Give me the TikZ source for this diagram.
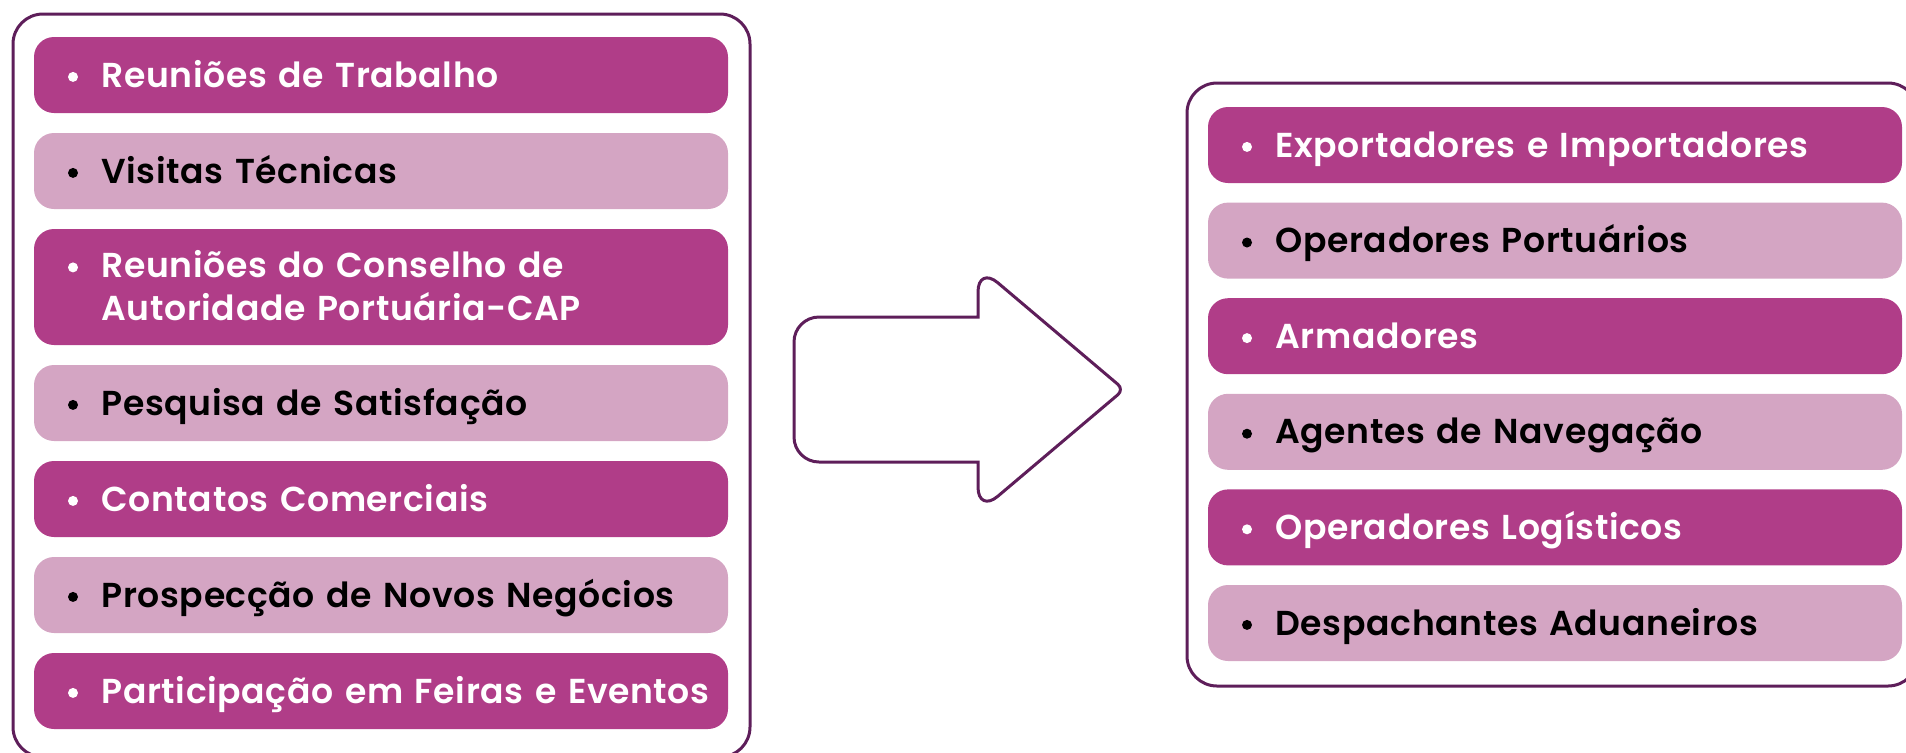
\documentclass[tikz,border=0pt]{standalone}
\usepackage{fontspec}
\setmainfont{Poppins SemiBold}[LetterSpace=1.8]
\usetikzlibrary{positioning}
\definecolor{porto-dark}{RGB}{176,61,136}
\definecolor{porto-light}{RGB}{212,165,195}
\definecolor{porto-line}{RGB}{94,30,90}
\newcommand{\bul}{\makebox[16.75pt][l]{\raisebox{2.6pt}{\tikz\fill (0,0) circle (2.5pt);}}}
\tikzset{%
  bar/.style={%
    rectangle,
    rounded corners=10pt,
    minimum height=38pt,
    text width=313pt,
    align=left,
    inner xsep=17pt, inner ysep=0pt,
    outer sep=0pt,
    text height=14.1pt, text depth=2pt,
    font=\fontsize{17.3}{21.5}\selectfont,
  },
  darkbar/.style={bar, fill=porto-dark, text=white},
  lightbar/.style={bar, fill=porto-light, text=black},
  frame/.style={%
    draw=porto-line,
    line width=1.5pt,
    rounded corners=15pt,
  },
  arrowline/.style={%
    draw=porto-line,
    line width=1.5pt,
    fill=white,
  },
}
\begin{document}
\begin{tikzpicture}[x=0.5pt, y=-0.5pt, node distance=10pt]
  \useasboundingbox (0,0) rectangle (1906,752);

  % frames
  \draw[frame] (13,14) rectangle (750,757);
  \draw[frame] (1187,83) rectangle (1918,686);

  % left column
  \node[darkbar, anchor=north west] at (34,37) (reunioes) {\bul Reuniões de Trabalho};
  \node[lightbar, below=of reunioes] (visitas) {\bul Visitas Técnicas};
  \node[darkbar, below=of visitas, minimum height=58pt, text depth=23.5pt] (conselho)
    {\bul Reuniões do Conselho de\\\hspace*{16.75pt}Autoridade Portuária-CAP};
  \node[lightbar, below=of conselho] (pesquisa) {\bul Pesquisa de Satisfação};
  \node[darkbar, below=of pesquisa] (contatos) {\bul Contatos Comerciais};
  \node[lightbar, below=of contatos] (prospeccao) {\bul Prospecção de Novos Negócios};
  \node[darkbar, below=of prospeccao] (feiras) {\bul \mbox{Participação em Feiras e Eventos}};

  % right column
  \begin{scope}[node distance=9.8pt]
    \node[darkbar, anchor=north west] at (1208,107) (exportadores) {\bul Exportadores e Importadores};
    \node[lightbar, below=of exportadores] (operadores) {\bul Operadores Portuários};
    \node[darkbar, below=of operadores] (armadores) {\bul Armadores};
    \node[lightbar, below=of armadores] (agentes) {\bul Agentes de Navegação};
    \node[darkbar, below=of agentes] (logisticos) {\bul Operadores Logísticos};
    \node[lightbar, below=of logisticos] (despachantes) {\bul Despachantes Aduaneiros};
  \end{scope}

  % arrow
  \draw[arrowline] (794,389.5) [rounded corners=12.5pt] -- (794,317)
    [sharp corners] -- (978,317) [rounded corners=13pt] -- (978,266)
    [rounded corners=4pt] -- (1124,389.5) [rounded corners=13pt] -- (978,513)
    [sharp corners] -- (978,462) [rounded corners=12.5pt] -- (794,462) -- cycle;
\end{tikzpicture}
\end{document}
